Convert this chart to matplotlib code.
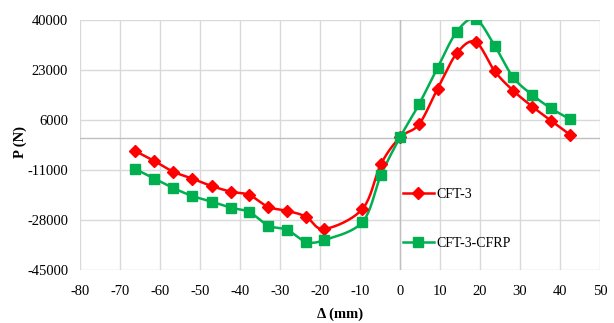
import numpy as np
import matplotlib
matplotlib.use("Agg")
import matplotlib.pyplot as plt

plt.rcParams["axes.unicode_minus"] = False

# Displacement (mm) and load (N) for the two specimens
disp_cft3 = [-66.2, -61.4, -56.7, -51.9, -47.1, -42.3, -37.7, -32.9, -28.3, -23.5,
             -18.9, -9.4, -4.75, 0.0, 4.75, 9.4, 14.2, 18.9, 23.7, 28.3, 33.1, 37.75, 42.5]
load_cft3 = [-4540, -7940, -11570, -13950, -16440, -18370, -19500, -23580, -24830, -26870,
             -31060, -24260, -8960, 100, 4530, 16650, 28670, 32520, 22560, 15970, 10530, 5770, 1010]

disp_cfrp = [-66.2, -61.4, -56.7, -51.9, -47.1, -42.3, -37.7, -32.9, -28.3, -23.5,
             -18.9, -9.4, -4.75, 0.0, 4.75, 9.4, 14.2, 18.9, 23.7, 28.3, 33.1, 37.75, 42.5]
load_cfrp = [-10660, -13950, -17120, -19840, -21770, -23810, -25280, -29930, -31290, -35370,
             -34800, -28680, -12700, 100, 11340, 23780, 36030, 40300, 31160, 20510, 14500, 9980, 6240]

series_labels = ["CFT-3", "CFT-3-CFRP"]
x_ticks = list(range(-80, 51, 10))
y_ticks = [-45000, -28000, -11000, 6000, 23000, 40000]

XMIN, XMAX = -80, 50
YMIN, YMAX = -45000, 40000

fig = plt.figure(figsize=(6.14, 3.23), dpi=100)
ax = fig.add_axes([80 / 614, 1 - 270 / 323, 520 / 614, 250 / 323])

# pixel scale of each axis, used so the smoothing behaves like it does on screen
sx = 520 / (XMAX - XMIN)
sy = 250 / (YMAX - YMIN)


def smooth(xs, ys, n=20, tension=0.5):
    """Catmull-Rom curve through the points, computed in screen-like units."""
    P = np.column_stack([np.asarray(xs, float) * sx, np.asarray(ys, float) * sy])
    P = np.vstack([P[0], P, P[-1]])
    out = []
    for i in range(1, len(P) - 2):
        p0, p1, p2, p3 = P[i - 1], P[i], P[i + 1], P[i + 2]
        m1 = tension * (p2 - p0)
        m2 = tension * (p3 - p1)
        t = np.linspace(0, 1, n, endpoint=False)[:, None]
        h00 = 2 * t**3 - 3 * t**2 + 1
        h10 = t**3 - 2 * t**2 + t
        h01 = -2 * t**3 + 3 * t**2
        h11 = t**3 - t**2
        out.append(h00 * p1 + h10 * m1 + h01 * p2 + h11 * m2)
    out.append(P[-2][None, :])
    C = np.vstack(out)
    return C[:, 0] / sx, C[:, 1] / sy


red = "#FF0000"
green = "#00B050"
serif = "Liberation Serif"
fs = 10.5

for xs, ys, col, mk, ms, lab in [
    (disp_cft3, load_cft3, red, "D", 6.5, series_labels[0]),
    (disp_cfrp, load_cfrp, green, "s", 7.0, series_labels[1]),
]:
    cx, cy = smooth(xs, ys)
    ax.plot(cx, cy, color=col, lw=1.8, zorder=3)
    ax.plot(xs, ys, linestyle="none", marker=mk, ms=ms, color=col,
            markeredgecolor=col, zorder=4)
    # legend proxy
    ax.plot([], [], color=col, lw=1.8, marker=mk, ms=ms, label=lab)

ax.set_xlim(XMIN, XMAX)
ax.set_ylim(YMIN, YMAX)
ax.set_xticks(x_ticks)
ax.set_yticks(y_ticks)
ax.grid(True, color="#d9d9d9", lw=1.0)
ax.set_axisbelow(True)
ax.axhline(0, color="#bfbfbf", lw=1.0, zorder=1)
ax.axvline(0, color="#bfbfbf", lw=1.0, zorder=1)
for s in ax.spines.values():
    s.set_visible(False)
ax.tick_params(axis="y", length=0, labelsize=fs, pad=8.5)
ax.tick_params(axis="x", length=0, labelsize=fs, pad=10.5)
for lbl in ax.get_xticklabels() + ax.get_yticklabels():
    lbl.set_family(serif)

ax.set_xlabel("Δ (mm)", family=serif, fontweight="bold", fontsize=fs)
ax.set_ylabel("P (N)", family=serif, fontweight="bold", fontsize=fs)
ax.xaxis.set_label_coords(0.5, -(314 - 270) / 250, transform=ax.transAxes)
ax.yaxis.set_label_coords(-(80 - 20) / 520, (270 - 142) / 250, transform=ax.transAxes)
ax.xaxis.label.set_va("center")
ax.yaxis.label.set_va("center")

handles, labels = ax.get_legend_handles_labels()
fig.legend(handles, labels, loc="center left", bbox_to_anchor=(403 / 614, 1 - 219 / 323),
           frameon=False, prop={"family": serif, "size": 10},
           labelspacing=2.6, handlelength=2.2, handletextpad=0.2, borderpad=0,
           borderaxespad=0)

fig.savefig("out.png", dpi=100)
